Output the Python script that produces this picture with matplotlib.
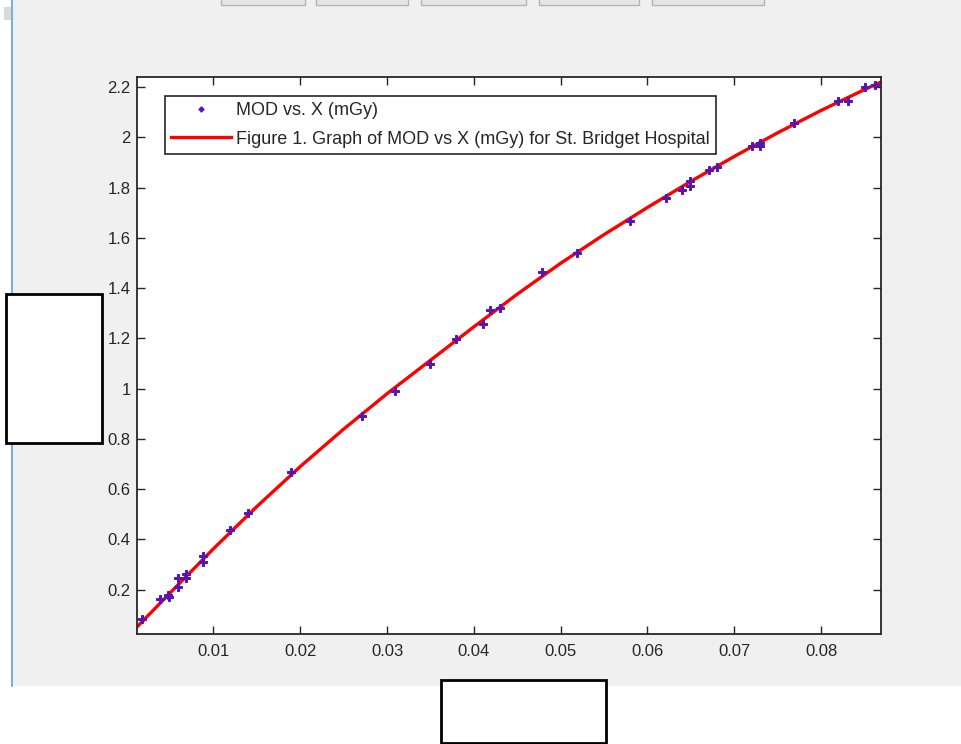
import matplotlib
matplotlib.use('Agg')
import matplotlib.pyplot as plt
from matplotlib.patches import Rectangle
from matplotlib.lines import Line2D

# measured dose X (mGy) and MOD readings
x_mgy = [0.0018, 0.0038, 0.0048, 0.0049, 0.0059, 0.0059, 0.0069, 0.0069,
         0.0088, 0.0088, 0.0119, 0.0140, 0.0189, 0.0271, 0.0309, 0.0349,
         0.0379, 0.0410, 0.0419, 0.0430, 0.0479, 0.0519, 0.0580, 0.0621,
         0.0640, 0.0649, 0.0649, 0.0671, 0.0680, 0.0720, 0.0730, 0.0730,
         0.0769, 0.0819, 0.0831, 0.0850, 0.0862]
mod = [0.083, 0.162, 0.178, 0.172, 0.245, 0.212, 0.261, 0.248,
       0.335, 0.311, 0.438, 0.504, 0.668, 0.891, 0.992, 1.097,
       1.196, 1.258, 1.312, 1.322, 1.463, 1.539, 1.668, 1.758,
       1.791, 1.826, 1.806, 1.870, 1.881, 1.966, 1.979, 1.966,
       2.058, 2.146, 2.146, 2.199, 2.208]

# fitted curve
fit_x = [0.0012, 0.005, 0.010, 0.015, 0.020, 0.025, 0.030, 0.035, 0.040,
         0.045, 0.050, 0.055, 0.060, 0.065, 0.070, 0.075, 0.080, 0.085, 0.0869]
fit_y = [0.052, 0.187, 0.363, 0.531, 0.690, 0.839, 0.980, 1.113, 1.246,
         1.376, 1.499, 1.613, 1.721, 1.825, 1.924, 2.018, 2.107, 2.190, 2.220]

xtick_vals = [0.01, 0.02, 0.03, 0.04, 0.05, 0.06, 0.07, 0.08]
xtick_labels = ['0.01', '0.02', '0.03', '0.04', '0.05', '0.06', '0.07', '0.08']
ytick_vals = [0.2, 0.4, 0.6, 0.8, 1.0, 1.2, 1.4, 1.6, 1.8, 2.0, 2.2]
ytick_labels = ['0.2', '0.4', '0.6', '0.8', '1', '1.2', '1.4', '1.6', '1.8', '2', '2.2']

legend_labels = ['MOD vs. X (mGy)',
                 'Figure 1. Graph of MOD vs X (mGy) for St. Bridget Hospital']

plt.rcParams['font.family'] = ['Liberation Sans', 'DejaVu Sans']

W, H = 962, 744
fig = plt.figure(figsize=(W / 100, H / 100), dpi=100)
fig.patch.set_facecolor('white')


def px_rect(x0, y0, x1, y1, **kw):
    # rectangle given in pixel coords measured from top-left
    r = Rectangle((x0 / W, 1 - y1 / H), (x1 - x0) / W, (y1 - y0) / H,
                  transform=fig.transFigure, **kw)
    fig.add_artist(r)
    return r


# grey window panel and blue left edge
px_rect(13, 0, 962, 686, facecolor='#f0f0f0', edgecolor='none', zorder=0)
fig.add_artist(Line2D([12 / W, 12 / W], [1 - 686 / H, 1], transform=fig.transFigure,
                      color='#5aa0e6', linewidth=1.2, zorder=1))
# toolbar button stubs along the top
for bx0, bx1 in [(221, 305), (316, 408), (421, 526), (539, 639), (652, 764)]:
    px_rect(bx0, -3, bx1, 5, facecolor='#e6e6e6', edgecolor='#b4b4b4',
            linewidth=1, zorder=1)
px_rect(4, 7, 11, 20, facecolor='#d9d9d9', edgecolor='none', zorder=1)

ax = fig.add_axes([137 / W, 1 - 634 / H, 744 / W, 557 / H])
ax.set_facecolor('white')

ax.plot(x_mgy, mod, linestyle='none', marker='P', markersize=5.8,
        color='#5614b4', markeredgecolor='#5614b4', markeredgewidth=0.7,
        label=legend_labels[0], zorder=3)
ax.plot(fit_x, fit_y, color='#ff0000', linewidth=2.4, label=legend_labels[1],
        zorder=2)

ax.set_xlim(0.0012, 0.0869)
ax.set_ylim(0.024, 2.240)
ax.set_xticks(xtick_vals)
ax.set_xticklabels(xtick_labels)
ax.set_yticks(ytick_vals)
ax.set_yticklabels(ytick_labels)
ax.tick_params(direction='in', top=True, right=True, length=5.5, width=1,
               labelsize=12, colors='#262626')
ax.tick_params(axis='x', pad=7)
ax.tick_params(axis='y', pad=4.5)
for s in ax.spines.values():
    s.set_color('#262626')
    s.set_linewidth(1.3)

leg = ax.legend(loc='upper left', bbox_to_anchor=((165 - 137) / 744, (634 - 96) / 557),
                borderaxespad=0, fancybox=False, framealpha=1, edgecolor='#262626',
                fontsize=13, handlelength=3.3, handletextpad=0.26,
                labelspacing=0.62, borderpad=0.35, markerscale=0.6)
leg.get_frame().set_linewidth(1.2)
for t in leg.get_texts():
    t.set_color('#262626')

# white label boxes over the frame
px_rect(6, 294, 102, 443, facecolor='white', edgecolor='black', linewidth=2, zorder=5)
px_rect(441, 680, 606, 743, facecolor='white', edgecolor='black', linewidth=2, zorder=5)

fig.savefig('out.png', dpi=100)
